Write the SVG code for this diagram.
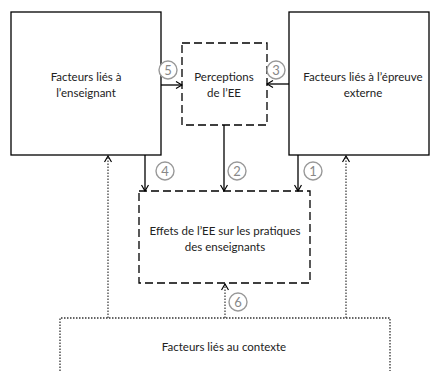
<svg xmlns="http://www.w3.org/2000/svg" width="430" height="371" viewBox="0 0 430 371">
<style>
.box{fill:#fff;stroke:#000;stroke-width:1.3}
.dash{fill:#fff;stroke:#000;stroke-width:1.3;stroke-dasharray:8 4}
.dot{fill:none;stroke:#333;stroke-width:1.3;stroke-dasharray:1.5 1.5}
.t{font-family:Lato,"Liberation Sans",sans-serif;font-size:11.5px;fill:#222;text-anchor:middle}
.c{fill:#fff;stroke:#999;stroke-width:1.4}
.n{font-family:Lato,"Liberation Sans",sans-serif;font-size:13px;fill:#888;text-anchor:middle}
.ar{stroke:#000;stroke-width:1.3;fill:none}
.ad{stroke:#333;stroke-width:1.2;fill:none;stroke-dasharray:1.5 1.5}
</style>
<defs>
<marker id="ah" markerWidth="8" markerHeight="8" refX="7" refY="4" orient="auto" markerUnits="userSpaceOnUse">
<path d="M1,0.5 L7,4 L1,7.5" fill="none" stroke="#000" stroke-width="1.2"/>
</marker>
</defs>
<g id="contexte">
<path class="dot" d="M60,371 L60,318 L390,318 L390,371"/>
<text class="t" x="224" y="351">Facteurs liés au contexte</text>
</g>
<g id="enseignant">
<rect class="box" x="11" y="12" width="150" height="143"/>
<text class="t" x="86" y="81">Facteurs liés à</text>
<text class="t" x="86" y="97">l’enseignant</text>
</g>
<g id="epreuve">
<rect class="box" x="289" y="12" width="140" height="143"/>
<text class="t" x="363" y="81">Facteurs liés à l’épreuve</text>
<text class="t" x="363" y="97">externe</text>
</g>
<g id="perceptions">
<rect class="dash" x="182" y="43" width="85" height="82"/>
<text class="t" x="224" y="81">Perceptions</text>
<text class="t" x="224" y="97">de l’EE</text>
</g>
<g id="effets">
<rect class="dash" x="139" y="191" width="171" height="92"/>
<text class="t" x="225" y="235">Effets de l’EE sur les pratiques</text>
<text class="t" x="225" y="251">des enseignants</text>
</g>
<g id="connectors">
<line class="ar" x1="161" y1="85" x2="182" y2="85" marker-end="url(#ah)"/>
<line class="ar" x1="289" y1="84" x2="267" y2="84" marker-end="url(#ah)"/>
<line class="ar" x1="145" y1="155" x2="145" y2="191" marker-end="url(#ah)"/>
<line class="ar" x1="224" y1="125" x2="224" y2="191" marker-end="url(#ah)"/>
<line class="ar" x1="298" y1="155" x2="298" y2="191" marker-end="url(#ah)"/>
<line class="ad" x1="108" y1="318" x2="108" y2="156" marker-end="url(#ah)"/>
<line class="ad" x1="346" y1="318" x2="346" y2="156" marker-end="url(#ah)"/>
<line class="ad" x1="225" y1="318" x2="225" y2="284" marker-end="url(#ah)"/>
</g>
<g id="labels">
<circle class="c" cx="168" cy="70" r="9"/><text class="n" x="168" y="74.5">5</text>
<circle class="c" cx="276" cy="70" r="9"/><text class="n" x="276" y="74.5">3</text>
<circle class="c" cx="165" cy="171" r="9"/><text class="n" x="165" y="175.5">4</text>
<circle class="c" cx="237" cy="171" r="9"/><text class="n" x="237" y="175.5">2</text>
<circle class="c" cx="313" cy="171" r="9"/><text class="n" x="313" y="175.5">1</text>
<circle class="c" cx="238" cy="302" r="9"/><text class="n" x="238" y="306.5">6</text>
</g>
</svg>
